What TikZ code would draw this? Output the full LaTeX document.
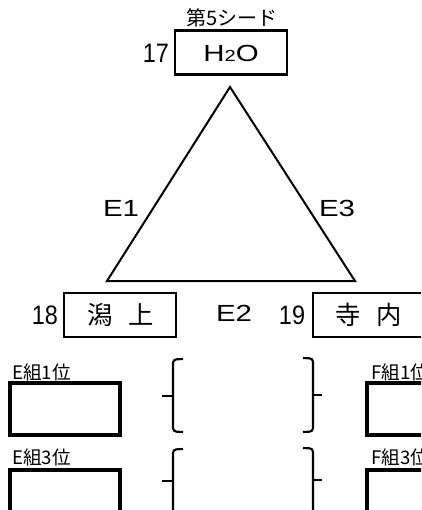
\documentclass[tikz,border=0pt]{standalone}
\usepackage{fontspec}
\setmainfont{Liberation Sans}
\newfontfamily\wide[FakeStretch=1.26]{Liberation Sans}
\newfontfamily\narrow[FakeStretch=0.88]{Liberation Sans}
\newfontfamily\jp{Noto Sans CJK JP}
\begin{document}
\begin{tikzpicture}[x=0.75pt,y=-0.75pt,
  topbox/.style={draw,line width=2pt,inner sep=0pt,minimum width=84pt,minimum height=33pt},
  lowbox/.style={draw,line width=2.4pt,inner sep=0pt,minimum width=82.5pt,minimum height=39pt},
  num/.style={inner sep=0pt,font=\narrow\fontsize{20}{20}\selectfont},
  elab/.style={inner sep=0pt,font=\wide\fontsize{17.5}{17.5}\selectfont},
  team/.style={inner sep=0pt,font=\jp\fontsize{19}{19}\selectfont},
  grp/.style={inner sep=0pt,anchor=west,font=\jp\fontsize{14}{14}\selectfont},
  tri/.style={line width=1.5pt},
  brace/.style={line width=1.6pt,rounded corners=2.5pt}]
\useasboundingbox (0,0) rectangle (421,510);
\clip (0,0) rectangle (421,510);

% top seed
\node[inner sep=0pt,font=\jp\fontsize{15}{15}\selectfont] (seed) at (232,18) {第5シード};
\node[topbox] (h2o) at (231,52.5) {};
\node[inner sep=0pt,font=\wide\fontsize{17.5}{17.5}\selectfont] (h2otext) at (231,53) {H{\fontsize{12}{12}\selectfont 2}O};
\node[num] (n17) at (156,53) {17};

% triangle
\coordinate (A) at (230,87);
\coordinate (B) at (107,281);
\coordinate (C) at (355,281);
\draw[tri] (A) -- (B) -- (C) -- cycle;
\node[elab] (e1) at (121,208) {E1};
\node[elab] (e3) at (337,208) {E3};
\node[elab] (e2) at (234,313) {E2};

% bottom teams
\node[topbox] (b18) at (120,315) {};
\node[team] (t18) at (121,315) {潟\hspace{12pt}上};
\node[num] (n18) at (45,315) {18};
\node[topbox] (b19) at (369,315) {};
\node[team] (t19) at (368.5,315) {寺\hspace{12pt}内};
\node[num] (n19) at (292,315) {19};

% group boxes
\node[grp] (g1) at (12,372) {E組1位};
\node[lowbox] (bx1) at (65,409) {};
\node[grp] (g3) at (12,457) {E組3位};
\node[lowbox] (bx3) at (65,496) {};
\node[grp] (f1) at (371,372) {F組1位};
\node[lowbox] (fx1) at (422,409) {};
\node[grp] (f3) at (371,457) {F組3位};
\node[lowbox] (fx3) at (422,496) {};

% braces
\coordinate (L1t) at (183,359);
\coordinate (L1b) at (183,432);
\draw[brace] (L1t) -- (173,359.5) -- (173,431.5) -- (L1b);
\draw[line width=1.6pt] (162,396) -- (173,396);
\coordinate (R1t) at (303,358);
\coordinate (R1b) at (303,432);
\draw[brace] (R1t) -- (313,358.5) -- (313,431.5) -- (R1b);
\draw[line width=1.6pt] (313,395) -- (322,395);

\coordinate (L2t) at (183,449);
\draw[brace] (L2t) -- (173,449.5) -- (173,515);
\draw[line width=1.6pt] (162,481) -- (173,481);
\coordinate (R2t) at (303,448);
\draw[brace] (R2t) -- (313,448.5) -- (313,515);
\draw[line width=1.6pt] (313,480) -- (322,480);
\end{tikzpicture}
\end{document}
